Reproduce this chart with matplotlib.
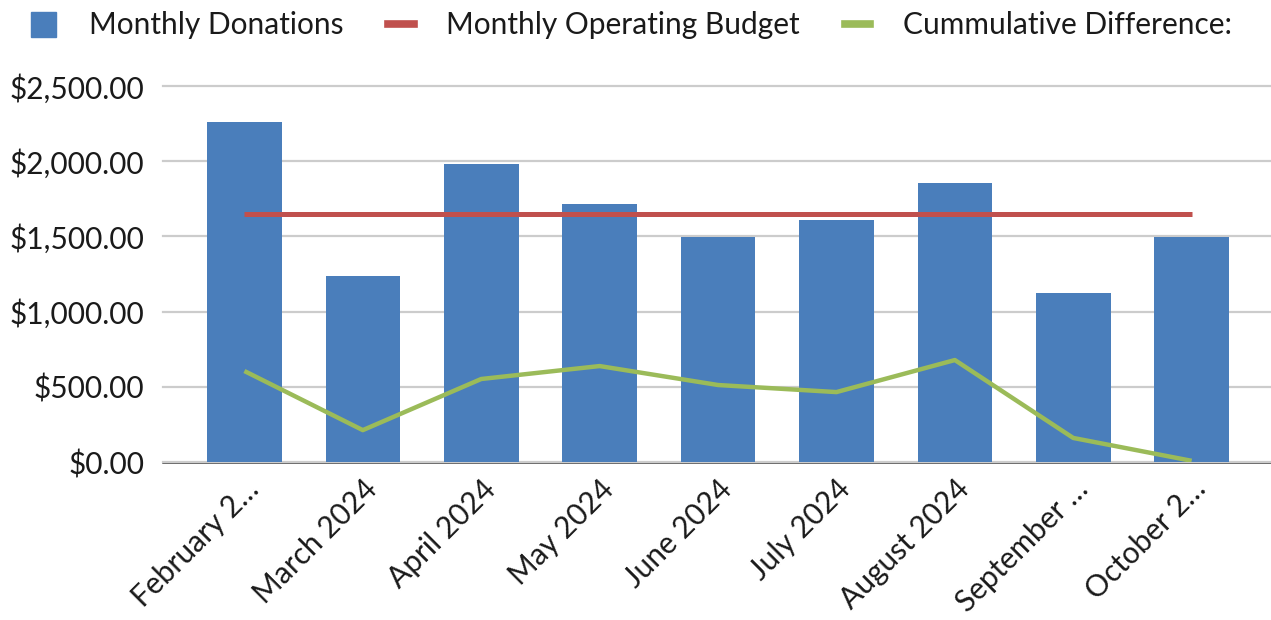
import matplotlib.pyplot as plt
from matplotlib.lines import Line2D
from matplotlib.ticker import FuncFormatter

months = ["February 2…", "March 2024", "April 2024", "May 2024", "June 2024",
          "July 2024", "August 2024", "September …", "October 2…"]
donations = [2262, 1238, 1983, 1718, 1498, 1610, 1855, 1125, 1498]
budget = [1650, 1650, 1650, 1650, 1650, 1650, 1650, 1650, 1650]
cumulative = [605, 212, 552, 638, 512, 465, 678, 160, 8]

blue = "#4A7EBB"
red = "#C0504D"
green = "#9BBB59"

plt.rcParams['font.family'] = ['Lato', 'DejaVu Sans']

fig = plt.figure(figsize=(12.71, 6.2), dpi=100)
ax = fig.add_axes([0.128, 0.2548, 0.872, 0.6065])

x = list(range(len(months)))
ax.bar(x, donations, width=0.63, color=blue, zorder=2)
ax.plot(x, budget, color=red, lw=3.6, solid_capstyle='butt', zorder=3)
ax.plot(x, cumulative, color=green, lw=3.2, solid_capstyle='butt', zorder=3)

ax.set_xlim(-0.69, 8.67)
ax.set_ylim(0, 2500)
ax.set_yticks([0, 500, 1000, 1500, 2000, 2500])
ax.yaxis.set_major_formatter(FuncFormatter(lambda v, p: "${:,.2f}".format(v)))
ax.grid(axis='y', color='#CCCCCC', lw=1.6, zorder=0, clip_on=False)
for s in ['top', 'right', 'left']:
    ax.spines[s].set_visible(False)
ax.spines['bottom'].set_color('#333333')
ax.spines['bottom'].set_linewidth(1.8)
ax.spines['bottom'].set_zorder(1)

ax.set_xticks(x)
ax.set_xticklabels(months, rotation=45, ha='right', va='top', rotation_mode='anchor')
ax.tick_params(axis='both', length=0, labelsize=21.5, colors='#1a1a1a')
ax.tick_params(axis='y', pad=13)
ax.tick_params(axis='x', pad=9)

handles = [
    Line2D([], [], marker='s', markersize=18, color=blue, linestyle='none'),
    Line2D([], [], color=red, lw=5.5),
    Line2D([], [], color=green, lw=5.5),
]
labels = ["Monthly Donations", "Monthly Operating Budget", "Cummulative Difference:"]
fig.legend(handles, labels, loc='upper left', bbox_to_anchor=(0.003, 1.025), ncol=3,
           frameon=False, fontsize=21.5, handlelength=0.85, handletextpad=1.1,
           columnspacing=1.5, labelcolor='#1a1a1a')

plt.savefig("out.png", dpi=100)
